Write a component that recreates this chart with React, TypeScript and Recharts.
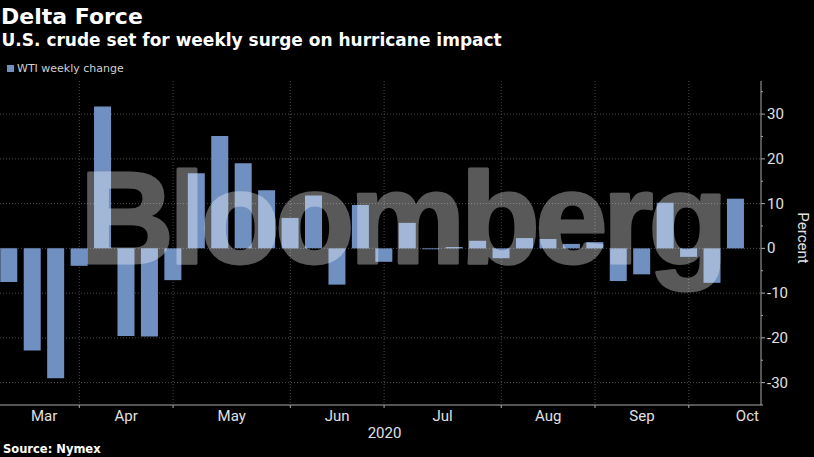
import React from 'react';
import { BarChart, Bar, XAxis, YAxis, CartesianGrid, Legend } from 'recharts';

// weekly WTI % change, week-ending dates
const WEEKS = [
  '2020-03-06', '2020-03-13', '2020-03-20', '2020-03-27',
  '2020-04-03', '2020-04-09', '2020-04-17', '2020-04-24',
  '2020-05-01', '2020-05-08', '2020-05-15', '2020-05-22', '2020-05-29',
  '2020-06-05', '2020-06-12', '2020-06-19', '2020-06-26',
  '2020-07-02', '2020-07-10', '2020-07-17', '2020-07-24', '2020-07-31',
  '2020-08-07', '2020-08-14', '2020-08-21', '2020-08-28',
  '2020-09-04', '2020-09-11', '2020-09-18', '2020-09-25',
  '2020-10-02', '2020-10-09',
];
const WTI_CHANGE = [
  -7.5, -22.8, -29.0, -3.9,
  31.7, -19.6, -19.7, -7.1,
  16.8, 25.1, 19.0, 13.0, 6.8,
  11.8, -8.1, 9.7, -3.0,
  5.7, -0.2, 0.3, 1.7, -2.2,
  2.3, 2.1, 1.0, 1.4,
  -7.3, -5.8, 10.2, -1.9,
  -7.7, 11.1,
];

const MONTH_BOUNDS = [3, 7, 12, 16, 21, 25, 29];
const MONTH_LABELS = ['Mar', 'Apr', 'May', 'Jun', 'Jul', 'Aug', 'Sep', 'Oct'];
const MONTH_LABEL_POS = [1.5, 5, 9.5, 14, 18.5, 23, 27, 31.5];
const Y_TICKS = [-35, -30, -25, -20, -15, -10, -5, 0, 5, 10, 15, 20, 25, 30, 35];
const Y_GRID = [-30, -20, -10, 0, 10, 20, 30];

const BAR_COLOR = '#7190c2';
const AXIS_COLOR = '#a8a8a8';
const TICK_FONT = "'Liberation Sans Narrow', 'Roboto', sans-serif";
const TITLE_FONT = "'DejaVu Sans', sans-serif";

const data = WEEKS.map((week, i) => ({ week, i, change: WTI_CHANGE[i] }));
const X_TICKS = [...MONTH_BOUNDS, ...MONTH_LABEL_POS].sort((a, b) => a - b);

const MonthTick = (props: any) => {
  const { x, y, payload } = props;
  const li = MONTH_LABEL_POS.indexOf(payload.value);
  if (li >= 0) {
    return (
      <text x={x} y={y + 16} textAnchor="middle" fill="#e0e0e0" fontSize={15} fontFamily={TICK_FONT}>
        {MONTH_LABELS[li]}
      </text>
    );
  }
  return <line x1={x} x2={x} y1={y} y2={y + 3} stroke={AXIS_COLOR} />;
};

const PctTick = (props: any) => {
  const { x, y, payload } = props;
  const major = payload.value % 10 === 0;
  return (
    <g>
      <line x1={x} x2={x + (major ? 4 : 2)} y1={y} y2={y} stroke={AXIS_COLOR} />
      {major && (
        <text x={x + 6} y={y + 5} fill="#e0e0e0" fontSize={15} fontFamily={TICK_FONT}>
          {payload.value}
        </text>
      )}
    </g>
  );
};

const PercentLabel = (props: any) => {
  const { x, y, height } = props.viewBox;
  const cx = x + 37;
  const cy = y + height / 2 - 5;
  return (
    <text x={cx} y={cy} transform={`rotate(90 ${cx} ${cy})`} textAnchor="middle" fill="#e0e0e0" fontSize={15} fontFamily={TICK_FONT}>
      Percent
    </text>
  );
};

const YearLabel = (props: any) => {
  const { x, y, width } = props.viewBox;
  return (
    <text x={x + width / 2 + 4} y={y + 33} textAnchor="middle" fill="#e0e0e0" fontSize={15} fontFamily={TICK_FONT}>
      2020
    </text>
  );
};

const LegendContent = (props: any) => {
  const item = props.payload && props.payload[0];
  return (
    <div style={{ display: 'flex', alignItems: 'center', height: 14, fontFamily: TITLE_FONT, fontSize: 11, color: '#d0d0d0' }}>
      <span style={{ display: 'inline-block', width: 7, height: 7, background: BAR_COLOR, marginLeft: 7, marginRight: 3 }} />
      {item ? item.value : ''}
    </div>
  );
};

export default function App() {
  return (
    <div style={{ position: 'fixed', left: 0, top: 0, width: 814, height: 457, background: '#000', overflow: 'hidden' }}>
      <div style={{ position: 'absolute', left: 1, top: 6, fontFamily: TITLE_FONT, fontWeight: 'bold', fontSize: 22, lineHeight: 1, color: '#fff' }}>
        Delta Force
      </div>
      <div style={{ position: 'absolute', left: 1.5, top: 32, fontFamily: TITLE_FONT, fontWeight: 'bold', fontSize: 17, lineHeight: 1, color: '#fff', whiteSpace: 'nowrap' }}>
        U.S. crude set for weekly surge on hurricane impact
      </div>
      <div style={{ position: 'absolute', left: 0, top: 0 }}>
        <BarChart width={814} height={457} data={data} margin={{ top: 67, right: 0, bottom: 0, left: 0 }}>
          <CartesianGrid
            stroke="#4a4a4a"
            strokeDasharray="1 2"
            horizontalValues={Y_GRID}
            verticalValues={MONTH_BOUNDS}
          />
          <XAxis
            dataKey="i"
            type="number"
            domain={[-0.384, 32.08]}
            allowDataOverflow
            ticks={X_TICKS}
            interval={0}
            height={52}
            tickSize={0}
            tickMargin={0}
            tickLine={false}
            axisLine={{ stroke: AXIS_COLOR }}
            tick={<MonthTick />}
            label={<YearLabel />}
          />
          <YAxis
            orientation="right"
            type="number"
            width={53}
            domain={[-35, 37.4]}
            allowDataOverflow
            ticks={Y_TICKS}
            interval={0}
            tickSize={0}
            tickMargin={0}
            tickLine={false}
            axisLine={{ stroke: AXIS_COLOR }}
            tick={<PctTick />}
            label={<PercentLabel />}
          />
          <Legend
            verticalAlign="top"
            align="left"
            content={<LegendContent />}
            wrapperStyle={{ top: 61, left: 0, width: 300, height: 14 }}
          />
          <Bar dataKey="change" name="WTI weekly change" fill={BAR_COLOR} barSize={17} isAnimationActive={false} />
        </BarChart>
      </div>
      <svg width={814} height={457} style={{ position: 'absolute', left: 0, top: 0, pointerEvents: 'none' }}>
        <g opacity={0.35}>
          <text
            x={80}
            y={263}
            style={{ fontFamily: "'Liberation Sans', Arial, sans-serif", fontWeight: 700, fontSize: 130 }}
            fill="#fff"
            stroke="#fff"
            strokeWidth={3}
            strokeLinejoin="round"
            textLength={648}
            lengthAdjust="spacing"
          >
            Bloomberg
          </text>
        </g>
      </svg>
      <div style={{ position: 'absolute', left: 3, top: 444, fontFamily: TITLE_FONT, fontWeight: 'bold', fontSize: 11.5, lineHeight: 1, color: '#fff' }}>
        Source: Nymex
      </div>
    </div>
  );
}
